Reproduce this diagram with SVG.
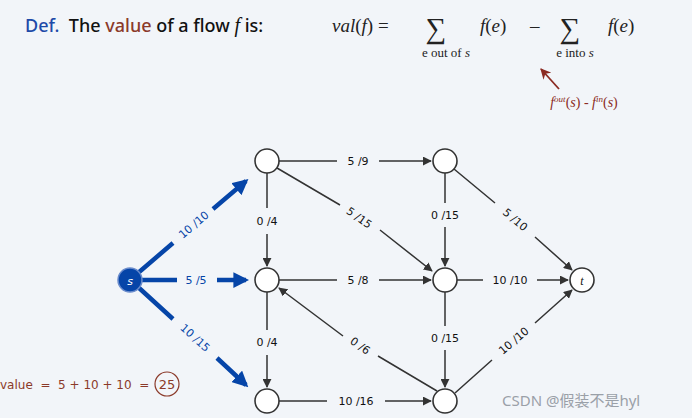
<svg xmlns="http://www.w3.org/2000/svg" width="692" height="418" viewBox="0 0 692 418">
<defs>
<marker id="ab" viewBox="0 0 10 10" refX="9" refY="5" markerWidth="6" markerHeight="6" orient="auto"><path d="M0,0 L10,5 L0,10 Z" fill="#333"/></marker>
<marker id="ablue" viewBox="0 0 10 10" refX="8" refY="5" markerWidth="3.5" markerHeight="3.5" orient="auto"><path d="M0,0 L10,5 L0,10 Z" fill="#0645a8"/></marker>
<marker id="ar" viewBox="0 0 10 10" refX="9" refY="5" markerWidth="6" markerHeight="6" orient="auto"><path d="M0,0 L10,5 L0,10 L3,5 Z" fill="#8b2a22"/></marker>
</defs>
<style>
.e{stroke:#333;stroke-width:1.5;fill:none}
.b{stroke:#0645a8;stroke-width:4.5;fill:none}
.n{fill:#fff;stroke:#333;stroke-width:1.6}
.l{font-family:"DejaVu Sans",sans-serif;font-size:11px;fill:#111;text-anchor:middle;dominant-baseline:central}
.lb{font-family:"DejaVu Sans",sans-serif;font-size:11px;fill:#0645a8;text-anchor:middle;dominant-baseline:central}
.m{font-family:"Liberation Serif",serif;font-style:italic;font-size:19px;fill:#222}
.r{font-family:"Liberation Serif",serif;fill:#222}
</style>
<rect width="692" height="418" fill="#f2f5f9"/>
<g id="title">
<text x="25" y="32" xml:space="preserve" font-family="'Noto Sans',sans-serif" font-size="18" font-weight="500" fill="#111"><tspan fill="#1e4aa8">Def.</tspan>  The <tspan fill="#8b3a2a">value</tspan> of a flow <tspan font-family="'Liberation Serif',serif" font-style="italic" font-weight="normal" font-size="20">f</tspan> is:</text>
<text x="332" y="32" class="m">val<tspan font-style="normal">(</tspan>f<tspan font-style="normal">)  =</tspan></text>
<text x="436" y="38" class="r" style="font-size:29px" text-anchor="middle">∑</text>
<text x="446" y="57" class="r" style="font-size:13px" text-anchor="middle">e out of <tspan font-style="italic">s</tspan></text>
<text x="480" y="32" class="m">f<tspan font-style="normal">(</tspan>e<tspan font-style="normal">)</tspan></text>
<text x="530" y="32" class="r" style="font-size:19px">–</text>
<text x="570" y="38" class="r" style="font-size:29px" text-anchor="middle">∑</text>
<text x="575" y="57" class="r" style="font-size:13px" text-anchor="middle">e into <tspan font-style="italic">s</tspan></text>
<text x="608" y="32" class="m">f<tspan font-style="normal">(</tspan>e<tspan font-style="normal">)</tspan></text>
</g>
<g id="note">
<line x1="559" y1="89" x2="541" y2="69" stroke="#8b2a22" stroke-width="1.8" marker-end="url(#ar)"/>
<text x="584" y="107" font-family="'Liberation Serif',serif" font-size="14" fill="#8b2a22" text-anchor="middle"><tspan font-style="italic">f</tspan><tspan font-size="9" dy="-5" font-style="italic">out</tspan><tspan dy="5">(</tspan><tspan font-style="italic">s</tspan>) - <tspan font-style="italic">f</tspan><tspan font-size="9" dy="-5" font-style="italic">in</tspan><tspan dy="5">(</tspan><tspan font-style="italic">s</tspan>)</text>
</g>
<g id="connectors">
<path class="b" d="M138,273 L173,243 M213,209 L246,181" marker-end="url(#ablue)"/>
<path class="b" d="M142,280 L177,280 M217,280 L246,280" marker-end="url(#ablue)"/>
<path class="b" d="M138,287 L173,319 M217,358 L246,385" marker-end="url(#ablue)"/>
<path class="e" d="M279,161 L337,161 M379,161 L431,161" marker-end="url(#ab)"/>
<path class="e" d="M267,173 L267,208 M267,234 L267,266" marker-end="url(#ab)"/>
<path class="e" d="M277,168 L340,205 M380,230 L432,271" marker-end="url(#ab)"/>
<path class="e" d="M445,173 L445,203 M445,227 L445,266" marker-end="url(#ab)"/>
<path class="e" d="M454,169 L495,203 M535,237 L572,270" marker-end="url(#ab)"/>
<path class="e" d="M279,280 L337,280 M379,280 L431,280" marker-end="url(#ab)"/>
<path class="e" d="M457,280 L483,280 M537,280 L568,280" marker-end="url(#ab)"/>
<path class="e" d="M267,292 L267,330 M267,355 L267,387" marker-end="url(#ab)"/>
<path class="e" d="M437,391 L378,356 M343,336 L279,288" marker-end="url(#ab)"/>
<path class="e" d="M445,292 L445,326 M445,350 L445,387" marker-end="url(#ab)"/>
<path class="e" d="M279,401 L327,401 M385,401 L431,401" marker-end="url(#ab)"/>
<path class="e" d="M455,393 L492,360 M535,323 L572,290" marker-end="url(#ab)"/>
</g>
<g id="labels">
<text class="lb" x="194" y="225" transform="rotate(-40 194 225)">10 /10</text>
<text class="lb" x="196" y="280">5 /5</text>
<text class="lb" x="195" y="338" transform="rotate(42 195 338)">10 /15</text>
<text class="l" x="358" y="161">5 /9</text>
<text class="l" x="267" y="221">0 /4</text>
<text class="l" x="359" y="218" transform="rotate(35 359 218)">5 /15</text>
<text class="l" x="445" y="215">0 /15</text>
<text class="l" x="515" y="220" transform="rotate(40 515 220)">5 /10</text>
<text class="l" x="358" y="280">5 /8</text>
<text class="l" x="510" y="280">10 /10</text>
<text class="l" x="267" y="342">0 /4</text>
<text class="l" x="360" y="346" transform="rotate(35 360 346)">0 /6</text>
<text class="l" x="445" y="338">0 /15</text>
<text class="l" x="356" y="401">10 /16</text>
<text class="l" x="514" y="341" transform="rotate(-40 514 341)">10 /10</text>
</g>
<g id="s"><circle cx="130" cy="280" r="12" fill="#0645a8" stroke="#6b8ccc" stroke-width="1.5"/><text x="130" y="281" font-family="'DejaVu Sans',sans-serif" font-style="italic" font-size="11" fill="#fff" text-anchor="middle" dominant-baseline="central">s</text></g>
<g id="n1"><circle class="n" cx="267" cy="161" r="12"/></g>
<g id="n2"><circle class="n" cx="267" cy="280" r="12"/></g>
<g id="n3"><circle class="n" cx="267" cy="401" r="12"/></g>
<g id="n4"><circle class="n" cx="445" cy="161" r="12"/></g>
<g id="n5"><circle class="n" cx="445" cy="280" r="12"/></g>
<g id="n6"><circle class="n" cx="445" cy="401" r="12"/></g>
<g id="t"><circle class="n" cx="582" cy="280" r="12"/><text x="582" y="281" font-family="'Liberation Serif',serif" font-style="italic" font-size="12" fill="#111" text-anchor="middle" dominant-baseline="central">t</text></g>
<g id="value">
<text x="0" y="389" font-family="'DejaVu Sans',sans-serif" font-size="12" fill="#8b3a2a" xml:space="preserve">value  =  5 + 10 + 10  = </text>
<circle cx="167" cy="384" r="12" fill="none" stroke="#8b3a2a" stroke-width="1.2"/>
<text x="167" y="389" font-family="'DejaVu Sans',sans-serif" font-size="13" fill="#8b3a2a" text-anchor="middle">25</text>
</g>
<text x="502" y="406" font-family="'Noto Sans','Noto Sans CJK SC',sans-serif" font-size="15" fill="#9aa0a8">CSDN @假装不是hyl</text>
</svg>
